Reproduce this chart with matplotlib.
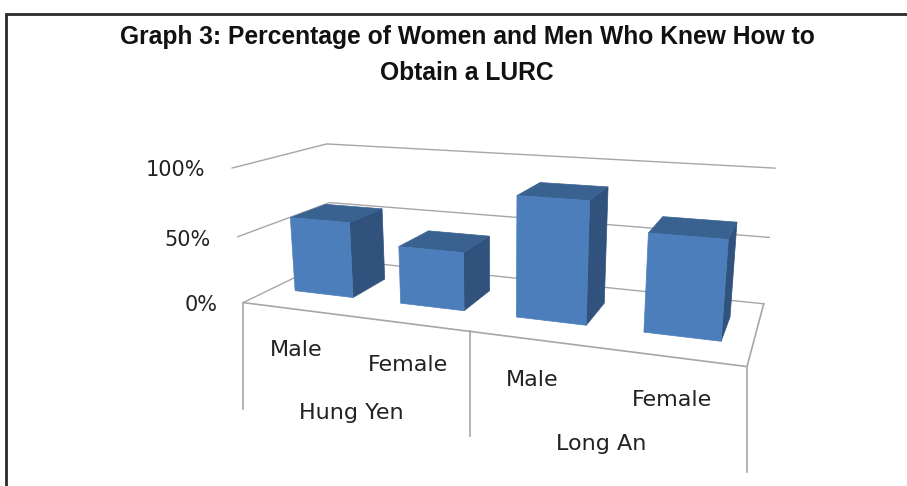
import numpy as np
import matplotlib
matplotlib.use("Agg")
import matplotlib.pyplot as plt
from matplotlib.patches import Polygon

title = "Graph 3: Percentage of Women and Men Who Knew How to\nObtain a LURC"
provinces = ["Hung Yen", "Long An"]
genders = ["Male", "Female", "Male", "Female"]
values = [57.5, 43, 86.5, 68]
ticks = [0, 50, 100]
tick_labels = ["0%", "50%", "100%"]

W, H = 907, 486
FRONT, TOP, SIDE = "#4c7ebc", "#3a6290", "#30527c"
GRID = "#a6a6a6"
BAR_W = 0.14       # share of the floor width
D0, D1 = 0.30, 0.70  # bar depth on the floor


def fit_camera():
    # 3d box corners (x, depth, value share) and where they land on the picture
    box = [(0, 0, 0), (1, 0, 0), (1, 1, 0), (0, 1, 0),
           (0, 0, .5), (0, 1, .5), (1, 1, .5),
           (0, 0, 1), (0, 1, 1), (1, 1, 1)]
    pix = [(244, 302), (747, 367), (764, 303), (332, 260),
           (237, 237), (330, 202), (769, 238),
           (232, 168), (327, 144), (775, 168)]
    rows, rhs = [], []
    for (x, d, z), (u, v) in zip(box, pix):
        rows.append([x, d, z, 1, 0, 0, 0, 0, -u * x, -u * d, -u * z])
        rhs.append(u)
        rows.append([0, 0, 0, 0, x, d, z, 1, -v * x, -v * d, -v * z])
        rhs.append(v)
    sol = np.linalg.lstsq(np.array(rows, float), np.array(rhs, float), rcond=None)[0]
    return np.append(sol, 1).reshape(3, 4)


CAM = fit_camera()


def proj(x, d, val):
    p = CAM @ np.array([x, d, val / 100, 1.0])
    return p[0] / p[2], p[1] / p[2]


fig = plt.figure(figsize=(W / 100, H / 100), dpi=100)
ax = fig.add_axes([0, 0, 1, 1])
ax.set_xlim(0, W)
ax.set_ylim(H, 0)
ax.axis("off")

# picture frame, only top and left show
ax.plot([5.5, 5.5, W], [H, 14, 14], color="#2a2a2a", lw=2, solid_joinstyle="miter")

# gridlines on the two walls
for t in ticks:
    pts = [proj(0, 0, t), proj(0, 1, t), proj(1, 1, t)]
    ax.plot(*zip(*pts), color=GRID, lw=1)

# floor edges
pts = [proj(1, 1, 0), proj(1, 0, 0), proj(0, 0, 0)]
ax.plot(*zip(*pts), color=GRID, lw=1.2)

# bars, back to front does not matter here since they do not overlap
for i, v in enumerate(values):
    c = (i + 0.5) / len(values)
    x0, x1 = c - BAR_W / 2, c + BAR_W / 2
    front = [proj(x0, D0, v), proj(x1, D0, v), proj(x1, D0, 0), proj(x0, D0, 0)]
    top = [proj(x0, D0, v), proj(x1, D0, v), proj(x1, D1, v), proj(x0, D1, v)]
    side = [proj(x1, D0, v), proj(x1, D1, v), proj(x1, D1, 0), proj(x1, D0, 0)]
    ax.add_patch(Polygon(side, fc=SIDE, ec=SIDE, lw=0.5, zorder=3))
    ax.add_patch(Polygon(top, fc=TOP, ec=TOP, lw=0.5, zorder=3))
    ax.add_patch(Polygon(front, fc=FRONT, ec=FRONT, lw=0.5, zorder=4))

# category dividers hanging under the front edge
for x, drop in zip([0, 0.5, 1], [106, 105, 105]):
    u, v = proj(x, 0, 0)
    ax.plot([u, u], [v, v + drop], color=GRID, lw=1.2)

ax.text(467, 55, title, ha="center", va="center", fontsize=17.7, fontweight="bold",
        family="Liberation Sans", linespacing=1.62, color="#111111")

label_style = dict(ha="center", va="center", fontsize=16, color="#222222", family="DejaVu Sans")
for t, lab, (tx, ty) in zip(ticks, tick_labels, [(218, 305), (211, 240), (205, 170)]):
    ax.text(tx, ty, lab, ha="right", va="center", fontsize=15, color="#222222", family="DejaVu Sans")
for lab, pos in zip(genders, [(296, 350), (408, 365), (532, 380), (672, 400)]):
    ax.text(pos[0], pos[1], lab, **label_style)
for lab, pos in zip(provinces, [(351, 413), (601, 444)]):
    ax.text(pos[0], pos[1], lab, **label_style)

fig.savefig("out.png", dpi=100)
